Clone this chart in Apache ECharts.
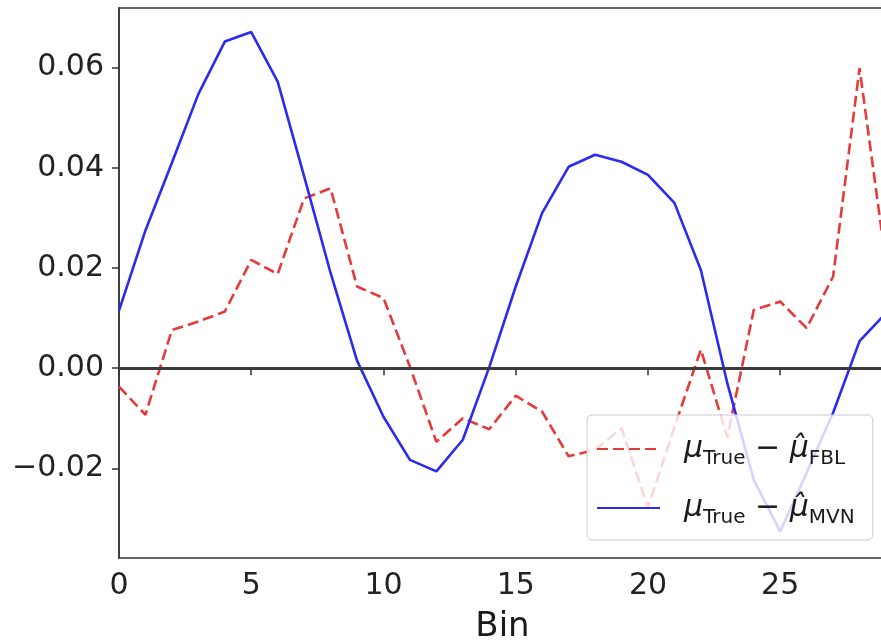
<!DOCTYPE html>
<html>
<head>
<meta charset="utf-8">
<script src="https://cdn.jsdelivr.net/npm/echarts@6/dist/echarts.min.js"></script>
<style>
html,body{margin:0;padding:0;background:#fff;}
#chart{width:881px;height:643px;}
</style>
</head>
<body>
<div id="chart"></div>
<script>
// Bins 0..29
const bins = [0,1,2,3,4,5,6,7,8,9,10,11,12,13,14,15,16,17,18,19,20,21,22,23,24,25,26,27,28,29];
// mu_True - mu_hat_FBL (red dashed)
const fblValues = [-0.0037,-0.0093,0.0076,0.0093,0.0113,0.0216,0.0188,0.0339,0.0359,0.0163,
                   0.0140,0.0003,-0.0147,-0.0100,-0.0122,-0.0055,-0.0087,-0.0176,-0.0163,-0.0120,
                   -0.0278,-0.0118,0.0037,-0.0138,0.0116,0.0133,0.0080,0.0183,0.0599,0.0210];
// mu_True - mu_hat_MVN (blue solid)
const mvnValues = [0.0115,0.0275,0.0410,0.0547,0.0652,0.0671,0.0572,0.0383,0.0190,0.0015,
                   -0.0097,-0.0183,-0.0206,-0.0143,0.0002,0.0163,0.0310,0.0402,0.0426,0.0412,
                   0.0386,0.0330,0.0196,-0.0030,-0.0223,-0.0326,-0.0209,-0.0089,0.0054,0.0110];
const xTicks = [0,5,10,15,20,25];
const yTicks = [-0.02,0,0.02,0.04,0.06];
const seriesNames = ['FBL','MVN'];

const chart = echarts.init(document.getElementById('chart'), null, {renderer:'canvas'});
const FONT = 'DejaVu Sans';
const richStyles = {
  g:{width:19},
  mu:{fontFamily:FONT, fontStyle:'italic', fontSize:30, color:'#1a1a1a', lineHeight:40},
  sub:{fontFamily:FONT, fontSize:20, color:'#1a1a1a', lineHeight:26, verticalAlign:'bottom'},
  op:{fontFamily:FONT, fontSize:30, color:'#1a1a1a', lineHeight:40}
};
chart.setOption({
  animation:false,
  backgroundColor:'#ffffff',
  grid:{left:119, top:8, width:767, height:550, show:true, borderColor:'#333', borderWidth:1.5,
        backgroundColor:'transparent', containLabel:false, outerBoundsMode:'none'},
  xAxis:{
    type:'value', min:0, max:29, interval:5,
    name:'Bin', nameLocation:'middle', nameGap:52,
    nameTextStyle:{fontFamily:FONT, fontSize:34, color:'#1a1a1a'},
    axisLine:{show:true, lineStyle:{color:'#333', width:1.5}},
    axisTick:{show:true, length:7, lineStyle:{color:'#333', width:1.5}, customValues:xTicks},
    axisLabel:{fontFamily:FONT, fontSize:30, color:'#222', margin:13, customValues:xTicks},
    splitLine:{show:false}
  },
  yAxis:{
    type:'value', min:-0.0379, max:0.0719,
    axisLine:{show:true, lineStyle:{color:'#333', width:1.5}},
    axisTick:{show:true, length:7, lineStyle:{color:'#333', width:1.5}, customValues:yTicks},
    axisLabel:{fontFamily:FONT, fontSize:30, color:'#222', margin:15, customValues:yTicks,
      formatter:function(v){ const s = Math.abs(v).toFixed(2); return (v < -1e-9 ? '\u2212' : '') + s; }},
    splitLine:{show:false}
  },
  legend:{
    orient:'vertical', left:587, top:415,
    data:seriesNames,
    itemWidth:63, itemHeight:14, itemGap:24,
    padding:[19,18,12,9],
    itemStyle:{opacity:0},
    backgroundColor:'rgba(255,255,255,0.8)',
    borderColor:'#cccccc', borderWidth:1, borderRadius:5,
    formatter:function(name){ return '{g|}{mu|\u03bc}{sub|True}{op| \u2212 }{mu|\u03bc\u0302}{sub|' + name + '}'; },
    textStyle:{rich:richStyles}
  },
  series:[
    {
      name:'zero', type:'line', data:[], z:1, silent:true,
      markLine:{silent:true, symbol:'none', label:{show:false},
        lineStyle:{color:'#3a3a3a', width:3, type:'solid'},
        data:[{yAxis:0}], animation:false}
    },
    {
      name:'FBL', type:'line', z:3,
      data:bins.map((b,i)=>[b, fblValues[i]]),
      symbol:'none', showSymbol:false,
      lineStyle:{color:'#e63a3a', width:2.6, type:[11,5]},
      itemStyle:{color:'#e63a3a'}
    },
    {
      name:'MVN', type:'line', z:3,
      data:bins.map((b,i)=>[b, mvnValues[i]]),
      symbol:'none', showSymbol:false,
      lineStyle:{color:'#2a2af2', width:2.6, type:'solid'},
      itemStyle:{color:'#2a2af2'}
    }
  ]
});
</script>
</body>
</html>
